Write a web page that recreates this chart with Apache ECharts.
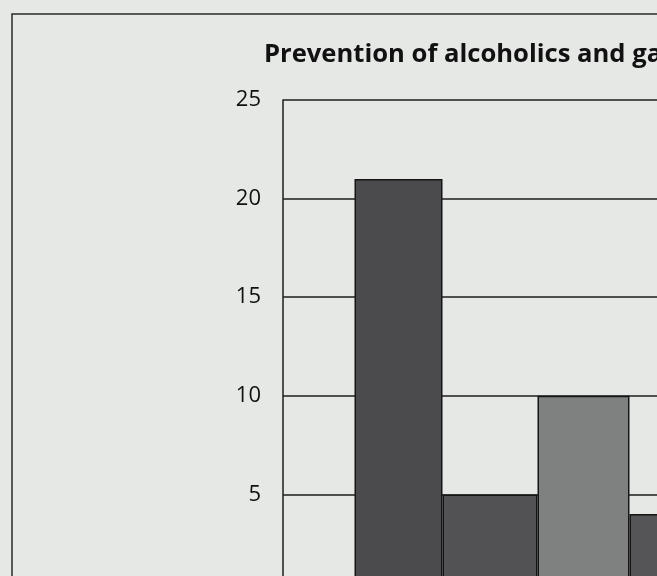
<!DOCTYPE html>
<html>
<head>
<meta charset="utf-8">
<script src="https://cdn.jsdelivr.net/npm/echarts@6/dist/echarts.min.js"></script>
<style>
html,body{margin:0;padding:0;background:#e6e8e6;}
#c{width:657px;height:576px;}
</style>
</head>
<body>
<div id="c"></div>
<script>
const titleText = 'Prevention of alcoholics and gambling';
const categories = ['Prevention'];
const seriesNames = ['Series 1', 'Series 2', 'Series 3', 'Series 4'];
const seriesValues = [21, 5, 10, 4];
const yMin = 0, yMax = 25, yInterval = 5;

const colors = ['#4b4b4d', '#525254', '#7f8181', '#555557'];
const widths = [88, 95, 92, 92];

const chart = echarts.init(document.getElementById('c'), null, {renderer: 'canvas'});
const series = seriesNames.map((name, i) => ({
  name: name,
  type: 'bar',
  data: [seriesValues[i]],
  barWidth: widths[i],
  barGap: '0%',
  itemStyle: {color: colors[i], borderColor: '#151515', borderWidth: 1.5},
  silent: true,
  z: 3
}));

chart.setOption({
  backgroundColor: '#e6e8e6',
  animation: false,
  title: {
    text: titleText,
    left: 259,
    top: 37,
    textStyle: {fontFamily: 'Open Sans', fontWeight: 'bold', fontSize: 25.6, color: '#111'}
  },
  graphic: [{
    type: 'rect',
    shape: {x: 12, y: 14, width: 900, height: 800},
    style: {fill: 'none', stroke: '#2a2a2a', lineWidth: 1.5},
    silent: true
  }],
  grid: {left: 283, top: 100, width: 510, height: 493, outerBoundsMode: 'none'},
  xAxis: {
    type: 'category',
    data: categories,
    axisLine: {show: true, lineStyle: {color: '#1e1e1e', width: 1.5}},
    axisTick: {show: false},
    axisLabel: {show: false}
  },
  yAxis: {
    type: 'value',
    min: yMin, max: yMax, interval: yInterval,
    axisLine: {show: true, lineStyle: {color: '#1e1e1e', width: 1.5}},
    axisTick: {show: false},
    axisLabel: {margin: 22, fontFamily: 'Open Sans', fontSize: 22, color: '#111'},
    splitLine: {show: true, lineStyle: {color: '#1e1e1e', width: 1.5}}
  },
  series: series
});
</script>
</body>
</html>
